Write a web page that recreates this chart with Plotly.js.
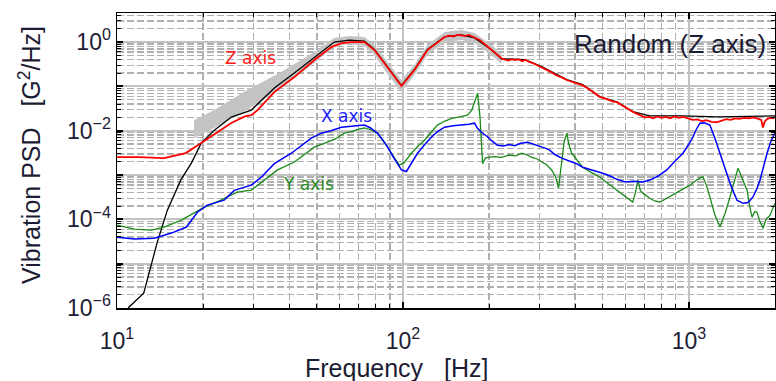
<!DOCTYPE html>
<html>
<head>
<meta charset="utf-8">
<script src="https://cdn.plot.ly/plotly-3.0.1.min.js"></script>
<style>html,body{margin:0;padding:0;background:#fff;}#chart{width:776px;height:381px;}</style>
</head>
<body>
<div id="chart"></div>
<script>
// ---- data ----
const freqZ = [10, 11.9, 14.6, 17.4, 19.7, 21.9, 25.1, 28.0, 29.5, 31.0, 35.5, 41.7, 49.0, 56.2, 60.9, 66.0, 73.3, 79.5, 88.3, 98.8, 109.7, 121.8,
  139.8, 145, 150, 155, 160, 165, 170, 175, 180, 186, 192, 198, 204, 210, 216, 222, 228, 234, 240, 247, 254, 261, 268, 275, 283, 291, 300,
  310, 320, 330, 342, 352, 362, 374, 386, 398, 412, 425, 440, 455, 470, 488, 505, 522, 540, 560, 580, 600, 620, 640, 660, 680, 700, 725,
  750, 775, 800, 830, 860, 890, 920, 955, 990, 1030, 1070, 1110, 1150, 1200, 1250, 1300, 1350, 1400, 1450, 1500, 1560, 1620, 1680, 1740,
  1790, 1815, 1840, 1880, 1930, 1970, 2000];
const psdZ = [2.54e-3, 2.54e-3, 2.41e-3, 3.12e-3, 5.25e-3, 8.4e-3, 1.49e-2, 2.1e-2, 2.25e-2, 2.9e-2, 7.43e-2, 0.162, 0.392, 0.771, 0.949, 1.0, 1.0, 0.66, 0.259, 0.1016, 0.233, 0.66,
  1.30, 1.40, 1.33, 1.45, 1.42, 1.36, 1.44, 1.30, 1.22, 1.10, 0.92, 0.80, 0.66, 0.58, 0.49, 0.42, 0.40, 0.38, 0.41, 0.39, 0.41, 0.37, 0.40, 0.36, 0.34, 0.31, 0.285,
  0.26, 0.235, 0.21, 0.18, 0.17, 0.155, 0.139, 0.13, 0.118, 0.112, 0.105, 0.093, 0.080, 0.068, 0.058, 0.054, 0.049, 0.046, 0.044, 0.038, 0.034, 0.029, 0.026, 0.024, 0.0215, 0.020, 0.0205,
  0.019, 0.021, 0.0195, 0.0205, 0.019, 0.021, 0.0195, 0.0205, 0.019, 0.0175, 0.018, 0.0165, 0.0172, 0.0158, 0.0155, 0.017, 0.0182, 0.0175, 0.019, 0.0185, 0.0195, 0.019, 0.020, 0.0188,
  0.0175, 0.0118, 0.016, 0.0185, 0.0195, 0.019, 0.0205];

const freqRef = [10, 11.0, 12.4, 13.8, 15.0, 16.7, 18.2, 19.7, 21.9, 25.1, 29.5, 35.5, 41.7, 49.0, 57.5, 64.9, 73.3, 79.5, 88.3, 98.8, 109.7, 121.8,
  139.8, 160.3, 178, 204, 221, 266.5, 305.6, 374, 425, 488, 559, 636, 730, 952, 1253, 1636, 2000];
const psdRef = [3.0e-7, 1.04e-6, 2.16e-6, 2.9e-5, 1.61e-4, 7.67e-4, 1.86e-3, 5.25e-3, 1.03e-2, 2.03e-2, 2.92e-2, 9.16e-2, 0.20, 0.4585, 1.0, 1.11, 1.053, 0.68, 0.27, 0.105, 0.24, 0.68,
  1.31, 1.45, 1.24, 0.67, 0.42, 0.40, 0.28, 0.142, 0.109, 0.058, 0.045, 0.027, 0.0215, 0.0215, 0.0205, 0.021, 0.0215];

const freqX = [10, 11.5, 13.5, 15.5, 17.5, 19.1, 20.7, 23.7, 25.7, 29.5, 32, 35.5, 40.7, 47.8, 51.8, 56, 60.9, 66, 70, 73.3, 77, 81.4, 85, 88.3, 93, 98.8, 102.8, 107, 112.4, 119, 125.9, 132, 139.8,
  150, 160, 170, 178, 182, 188, 198, 205, 214, 225, 235, 246, 258, 273, 285, 295, 306, 316, 326, 340, 359, 374, 390, 405, 425, 450, 475, 500, 530, 560, 600, 640, 690, 730, 780, 837,
  890, 953, 1000, 1033, 1060, 1093, 1130, 1184, 1230, 1284, 1340, 1392, 1440, 1473, 1546, 1610, 1675, 1730, 1773, 1820, 1876, 1940, 2000];
const psdX = [3.96e-5, 3.6e-5, 3.75e-5, 4.9e-5, 6.7e-5, 1.45e-4, 2.09e-4, 2.71e-4, 4.5e-4, 5.9e-4, 9.0e-4, 1.8e-3, 3.1e-3, 6.8e-3, 8.8e-3, 1.0e-2, 1.2e-2, 1.25e-2, 1.32e-2, 1.34e-2, 1.15e-2, 8.8e-3, 6.2e-3, 4.3e-3, 2.4e-3, 1.3e-3, 1.2e-3, 1.8e-3, 3.1e-3, 4.8e-3, 7.2e-3, 9.5e-3, 1.2e-2,
  1.3e-2, 1.34e-2, 1.40e-2, 1.48e-2, 1.15e-2, 9.2e-3, 7.2e-3, 5.8e-3, 4.7e-3, 4.5e-3, 4.9e-3, 4.6e-3, 5.2e-3, 5.5e-3, 5.0e-3, 4.8e-3, 4.3e-3, 4.0e-3, 3.65e-3, 2.9e-3, 2.4e-3, 2.2e-3, 1.95e-3, 1.8e-3, 1.5e-3, 1.35e-3, 1.2e-3, 1.1e-3, 9.5e-4, 8.0e-4, 7.0e-4, 7.2e-4, 7.0e-4, 7.7e-4, 9.5e-4, 1.3e-3,
  2.0e-3, 3.1e-3, 5.0e-3, 7.2e-3, 1.05e-2, 1.48e-2, 1.5e-2, 1.34e-2, 7.0e-3, 3.1e-3, 1.3e-3, 6.6e-4, 3.8e-4, 2.7e-4, 2.3e-4, 2.4e-4, 3.2e-4, 5.0e-4, 7.7e-4, 1.5e-3, 3.1e-3, 6.0e-3, 8.8e-3];

const freqY = [10, 11.5, 13.2, 14.6, 16.8, 18.6, 20.2, 23.1, 26.3, 29.5, 32, 36.3, 41.7, 45, 49, 54.4, 58, 62.4, 66, 70, 73.3, 77, 81.4, 85, 88.3, 93, 97.2, 101, 107, 113, 119, 125, 132, 140, 148, 158, 168, 174, 178, 182.4,
  186, 189.9, 194, 198, 210, 221, 235, 248, 260, 270, 282, 295, 306, 318, 331, 342, 350, 358, 366, 374, 380, 389, 405, 425, 455, 488, 520, 559, 600, 636, 650, 663, 676, 690, 730, 760, 792,
  830, 870, 908, 960, 1008, 1060, 1100, 1120, 1150, 1184, 1230, 1284, 1340, 1392, 1440, 1485, 1540, 1597, 1630, 1662, 1700, 1730, 1770, 1816, 1860, 1922, 1960, 2000];
const psdY = [7.4e-5, 6.0e-5, 5.7e-5, 6.7e-5, 9.6e-5, 1.38e-4, 1.89e-4, 2.71e-4, 4.1e-4, 4.56e-4, 6.9e-4, 1.29e-3, 1.96e-3, 2.8e-3, 4.26e-3, 5.53e-3, 6.5e-3, 8.8e-3, 9.5e-3, 1.08e-2, 1.15e-2, 1.05e-2, 8.8e-3, 6.0e-3, 4.3e-3, 2.5e-3, 1.67e-3, 1.9e-3, 3.1e-3, 4.5e-3, 6.1e-3, 9.0e-3, 1.34e-2, 1.65e-2, 1.9e-2, 2.05e-2, 2.25e-2, 2.9e-2, 4.5e-2, 7.0e-2,
  2.0e-2, 1.8e-3, 2.4e-3, 2.5e-3, 2.6e-3, 2.5e-3, 2.8e-3, 2.7e-3, 3.1e-3, 2.9e-3, 2.5e-3, 2.3e-3, 1.96e-3, 1.7e-3, 1.3e-3, 9.0e-4, 5.1e-4, 1.5e-3, 5.5e-3, 8.8e-3, 5.0e-3, 3.1e-3, 2.2e-3, 1.5e-3, 1.15e-3, 9.0e-4, 6.5e-4, 4.6e-4, 3.3e-4, 2.45e-4, 4.0e-4, 7.7e-4, 4.5e-4, 3.9e-4, 3.0e-4, 2.6e-4, 2.45e-4,
  2.9e-4, 3.5e-4, 4.1e-4, 5.0e-4, 5.9e-4, 7.5e-4, 8.8e-4, 9.0e-4, 6.0e-4, 3.2e-4, 1.3e-4, 6.7e-5, 1.4e-4, 3.2e-4, 7.5e-4, 1.43e-3, 8.0e-4, 4.56e-4, 2.0e-4, 1.12e-4, 1.5e-4, 1.45e-4, 9.0e-5, 6.3e-5, 1.0e-4, 1.24e-4, 1.7e-4, 2.32e-4];

const bandF  = [18.6, 21.9, 28.5, 37.5, 49, 57.5, 65, 73.3, 79.5, 88.3, 98.8, 109.7, 121.8, 139.8, 160.3, 178, 204, 221];
const bandHi = [0.0174, 0.0292, 0.0825, 0.21, 0.595, 1.23, 1.37, 1.30, 0.855, 0.353, 0.139, 0.302, 0.855, 1.68, 1.87, 1.6, 0.855, 0.536];
const bandLo = [0.0068, 0.0115, 0.0292, 0.0915, 0.336, 0.812, 0.90, 0.812, 0.509, 0.189, 0.0743, 0.18, 0.509, 1.0, 1.11, 0.949, 0.509, 0.318];

const xTickVals = [10, 100, 1000];
const xTickText = ['10<sup>1</sup>', '10<sup>2</sup>', '10<sup>3</sup>'];
const yTickVals = [1e-6, 1e-4, 1e-2, 1];
const yTickText = ['10<sup>\u22126</sup>', '10<sup>\u22124</sup>', '10<sup>\u22122</sup>', '10<sup>0</sup>'];
const yOddDecades = [1e-5, 1e-3, 1e-1];

// minor tick positions (2..9 of each decade)
function minorVals(lo, hi) {
  const out = [];
  for (let e = lo; e < hi; e++) for (let d = 2; d <= 9; d++) out.push(d * Math.pow(10, e));
  return out;
}
const xMinor = minorVals(1, 4).filter(v => v <= 2000);
const yMinor = minorVals(-6, 1).filter(v => v <= 4.6);

const mainFont = 'Liberation Sans, Arial, sans-serif';
const labFont = 'DejaVu Sans, Verdana, sans-serif';
const txtColor = '#1c1c34';
const yRange = [-6, 0.655];

const traces = [
  {x: bandF, y: bandHi, mode: 'lines', line: {width: 0, color: '#c4c4c4'}, hoverinfo: 'skip', showlegend: false},
  {x: bandF, y: bandLo, mode: 'lines', line: {width: 0, color: '#c4c4c4'}, fill: 'tonexty', fillcolor: '#c4c4c4', hoverinfo: 'skip', showlegend: false},
  {x: freqRef, y: psdRef, mode: 'lines', line: {color: '#000000', width: 1.3}, showlegend: false},
  {x: freqY, y: psdY, mode: 'lines', line: {color: '#1b8a1b', width: 1.3}, showlegend: false},
  {x: freqX, y: psdX, mode: 'lines', line: {color: '#0000ff', width: 1.5}, showlegend: false},
  {x: freqZ, y: psdZ, mode: 'lines', line: {color: '#ff0000', width: 1.8}, showlegend: false, yaxis: 'y2'}
];

const minorStyle = {ticks: 'inside', ticklen: 4, tickwidth: 1, tickcolor: '#000',
  showgrid: true, gridcolor: '#b0b0b0', gridwidth: 1.3, griddash: '7px,3px'};

const axCommon = {
  type: 'log', showline: true, linecolor: '#000', linewidth: 1.5, mirror: 'ticks',
  ticks: 'inside', ticklen: 6, tickwidth: 2, tickcolor: '#000',
  showgrid: true, gridcolor: '#c2c2c2', gridwidth: 1.8, zeroline: false,
  tickfont: {family: mainFont, size: 23, color: txtColor}
};

const layout = {
  width: 776, height: 381,
  margin: {l: 117, r: 1, t: 13, b: 73},
  paper_bgcolor: '#fff', plot_bgcolor: '#fff',
  xaxis: Object.assign({}, axCommon, {
    range: [1, Math.log10(2000)], tickmode: 'array', tickvals: xTickVals, ticktext: xTickText,
    ticklabelstandoff: 12,
    minor: Object.assign({tickmode: 'array', tickvals: xMinor}, minorStyle)
  }),
  yaxis: Object.assign({}, axCommon, {
    range: yRange, tickmode: 'array', tickvals: yTickVals, ticktext: yTickText,
    minor: Object.assign({tickmode: 'array', tickvals: yMinor}, minorStyle)
  }),
  yaxis2: {
    type: 'log', overlaying: 'y', side: 'left', range: yRange,
    tickmode: 'array', tickvals: yOddDecades, showticklabels: false,
    ticks: 'inside', ticklen: 6, tickwidth: 2, tickcolor: '#000',
    showline: false, mirror: 'ticks',
    showgrid: true, gridcolor: '#c2c2c2', gridwidth: 1.8, zeroline: false
  },
  annotations: [
    {xref: 'paper', yref: 'paper', x: 0.4255, y: -0.2034, xanchor: 'center', yanchor: 'middle', showarrow: false,
     text: 'Frequency\u00a0\u00a0\u00a0[Hz]', font: {family: mainFont, size: 25, color: txtColor}},
    {xref: 'paper', yref: 'paper', x: -0.1322, y: 0.5186, xanchor: 'center', yanchor: 'middle', showarrow: false, textangle: -90,
     text: 'Vibration PSD\u00a0\u00a0\u00a0[G<sup>2</sup>/Hz]', font: {family: mainFont, size: 25, color: txtColor}},
    {xref: 'paper', yref: 'paper', x: 0.8404, y: 0.8949, xanchor: 'center', yanchor: 'middle', showarrow: false,
     text: 'Random (Z axis)', font: {family: mainFont, size: 26, color: txtColor}},
    {xref: 'paper', yref: 'paper', x: 0.2036, y: 0.8475, xanchor: 'center', yanchor: 'middle', showarrow: false,
     text: 'Z axis', font: {family: labFont, size: 17, color: '#ff1a1a'}},
    {xref: 'paper', yref: 'paper', x: 0.3495, y: 0.6508, xanchor: 'center', yanchor: 'middle', showarrow: false,
     text: 'X axis', font: {family: labFont, size: 17, color: '#2323ff'}},
    {xref: 'paper', yref: 'paper', x: 0.2903, y: 0.4203, xanchor: 'center', yanchor: 'middle', showarrow: false,
     text: 'Y axis', font: {family: labFont, size: 17, color: '#2e8b2e'}}
  ]
};

Plotly.newPlot('chart', traces, layout, {displayModeBar: false, staticPlot: true});
</script>
</body>
</html>
